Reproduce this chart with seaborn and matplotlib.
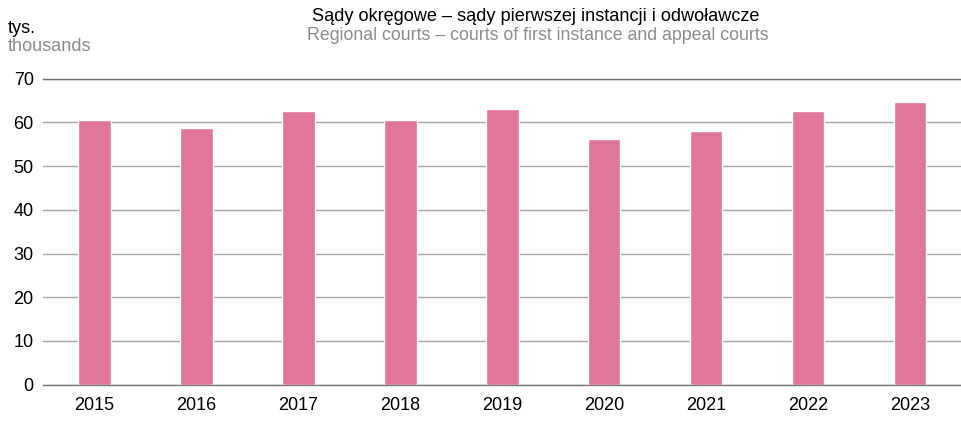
import matplotlib
matplotlib.use("Agg")
import matplotlib.pyplot as plt
import seaborn as sns
import pandas as pd

years = ["2015", "2016", "2017", "2018", "2019", "2020", "2021", "2022", "2023"]
values = [60.6, 58.7, 62.5, 60.5, 63.1, 56.2, 58.1, 62.7, 64.6]
yticks = [0, 10, 20, 30, 40, 50, 60, 70]

title_pl = "Sądy okręgowe – sądy pierwszej instancji i odwoławcze"
title_en = "Regional courts – courts of first instance and appeal courts"
unit_pl = "tys."
unit_en = "thousands"

sns.set_theme(style="white")
plt.rcParams['font.family'] = ['Liberation Sans', 'DejaVu Sans']

W, H = 961, 422
fig = plt.figure(figsize=(W / 100, H / 100), dpi=100)
ax = fig.add_axes([43.4 / W, (H - 384.7) / H, 1 - 43.4 / W, (384.7 - 78.7) / H])

df = pd.DataFrame({"year": years, "value": values})
sns.barplot(data=df, x="year", y="value", color="#E07799", saturation=1,
            width=0.32, ax=ax, zorder=3)

ax.set_ylim(0, 70)
ax.set_xlim(-0.5, 8.5)
ax.set_yticks(yticks)
ax.set_xlabel("")
ax.set_ylabel("")
ax.yaxis.grid(True, color="#a6a6a6", linewidth=1.0, zorder=0)
ax.set_axisbelow(True)
for s in ["left", "right"]:
    ax.spines[s].set_visible(False)
ax.spines["top"].set_color("#707070")
ax.spines["top"].set_linewidth(1.0)
ax.spines["bottom"].set_color("#7a7a7a")
ax.spines["bottom"].set_linewidth(1.0)
ax.spines["bottom"].set_zorder(5)
ax.tick_params(axis="y", length=0, pad=7, labelsize=13, labelcolor="#000000")
ax.tick_params(axis="x", length=0, pad=9, labelsize=13, labelcolor="#000000")

def px(x, y):
    return x / W, 1 - y / H

fig.text(*px(535.5, 21), title_pl, ha="center", va="baseline", fontsize=13.1, color="#000000")
fig.text(*px(537.5, 40), title_en, ha="center", va="baseline", fontsize=12.8, color="#8c8c8c")
fig.text(*px(8, 33), unit_pl, ha="left", va="baseline", fontsize=13.1, color="#000000")
fig.text(*px(8, 51), unit_en, ha="left", va="baseline", fontsize=13.1, color="#8c8c8c")

fig.savefig("out.png", dpi=100)
